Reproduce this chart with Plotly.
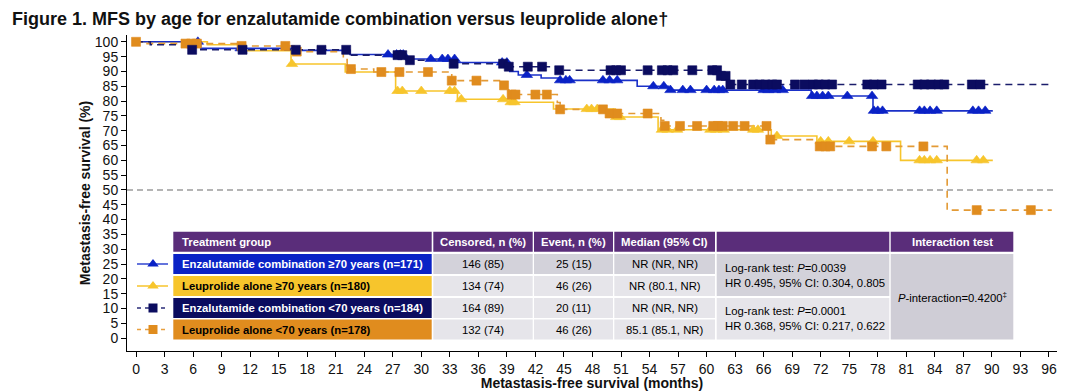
import numpy as np
import plotly.graph_objects as go

# ---------------- data ----------------
month_ticks = list(range(0, 97, 3))
surv_ticks = list(range(0, 101, 5))

# Enzalutamide combination >=70 years (event times, survival after each step)
enz70_t = [0, 6.8, 17.0, 22.5, 28.3, 33.6, 39.3, 40.2, 42.6, 44.6, 52.7, 56.0, 71.0, 77.5]
enz70_s = [100, 97.8, 97.1, 95.7, 94.2, 93.0, 90.0, 88.8, 87.8, 87.0, 85.0, 83.7, 81.7, 76.7]
enz70_last = 90.1
enz70_cens = [6.5, 11.0, 26.5, 27.4, 27.8, 28.1, 31.0, 32.2, 32.8, 33.5, 38.5, 39.0, 41.1, 44.6,
              45.2, 45.6, 49.1, 49.8, 50.6, 54.4, 55.5, 56.2, 57.5, 58.3, 60.0, 60.8, 61.3, 61.7,
              66.0, 66.5, 67.2, 68.0, 71.1, 71.6, 72.2, 72.8, 74.8, 77.4, 77.6, 78.0, 78.5, 82.4,
              82.9, 83.5, 84.2, 88.0, 88.6, 89.3]

# Leuprolide alone >=70 years
leu70_t = [0, 7.5, 11.5, 16.3, 22.0, 27.3, 33.8, 39.3, 43.9, 50.4, 54.9, 66.8, 71.6, 80.4]
leu70_s = [100, 99.0, 97.0, 92.5, 89.8, 83.4, 80.6, 79.6, 77.3, 74.6, 70.3, 68.2, 66.4, 60.0]
leu70_last = 90.1
leu70_cens = [16.4, 27.5, 28.0, 30.0, 33.0, 33.5, 34.2, 38.6, 39.4, 39.8, 47.4, 47.9, 48.5, 50.5,
              50.9, 55.3, 55.9, 56.9, 60.4, 61.0, 61.8, 64.9, 65.4, 67.4, 72.0, 72.8, 75.0, 77.5,
              82.4, 82.9, 83.5, 84.2, 88.4, 89.1]

# Enzalutamide combination <70 years
enzlt_t = [0, 1.5, 5.8, 22.2, 28.3, 33.3, 39.0, 44.4, 61.4, 62.2]
enzlt_s = [100, 99.0, 97.3, 95.5, 93.8, 92.6, 91.6, 90.4, 88.5, 85.6]
enzlt_last = 96.3
enzlt_cens = [5.9, 11.2, 16.8, 19.5, 22.1, 27.5, 28.0, 28.8, 33.4, 38.6, 39.2, 41.2, 42.7, 44.5,
              49.9, 50.5, 51.0, 53.8, 55.3, 55.9, 56.5, 58.5, 60.6, 61.1, 61.5, 62.0, 62.5, 63.7,
              64.9, 65.6, 66.2, 66.9, 67.4, 69.3, 70.3, 71.2, 71.8, 72.5, 73.2, 76.9, 77.6, 78.4,
              82.2, 82.9, 83.6, 84.4, 85.0, 87.9, 88.8]

# Leuprolide alone <70 years
leult_t = [0, 1.0, 11.0, 16.9, 21.8, 22.2, 22.6, 25.0, 33.2, 38.7, 39.2, 44.3, 44.6, 49.5, 55.2,
           55.6, 66.5, 71.8, 85.3]
leult_s = [100, 99.4, 98.6, 96.7, 94.0, 92.0, 90.8, 89.8, 86.9, 85.3, 82.2, 79.5, 77.2, 75.8, 73.5,
           71.6, 67.0, 64.7, 43.2]
leult_last = 96.3
leult_cens = [0.0, 5.2, 5.8, 6.4, 11.1, 15.7, 16.9, 22.6, 25.8, 27.7, 30.7, 33.2, 35.8, 38.7, 39.5,
              39.9, 42.0, 43.2, 44.6, 49.1, 49.8, 50.6, 53.8, 55.6, 57.2, 59.0, 60.7, 61.2, 61.7,
              62.8, 64.0, 66.3, 66.7, 71.9, 72.5, 73.0, 77.4, 78.9, 82.8, 88.4, 94.1]

# table content
group_labels = ["Enzalutamide combination ≥70 years (n=171)",
                "Leuprolide alone ≥70 years (n=180)",
                "Enzalutamide combination <70 years (n=184)",
                "Leuprolide alone <70 years (n=178)"]
censored = ["146 (85)", "134 (74)", "164 (89)", "132 (74)"]
events = ["25 (15)", "46 (26)", "20 (11)", "46 (26)"]
medians = ["NR (NR, NR)", "NR (80.1, NR)", "NR (NR, NR)", "85.1 (85.1, NR)"]
logrank = ["Log-rank test: <i>P</i>=0.0039<br>HR 0.495, 95% CI: 0.304, 0.805",
           "Log-rank test: <i>P</i>=0.0001<br>HR 0.368, 95% CI: 0.217, 0.622"]
interaction = "<i>P</i>-interaction=0.4200<sup>‡</sup>"
headers = ["Treatment group", "Censored, n (%)", "Event, n (%)", "Median (95% CI)", "", "Interaction test"]

# ---------------- style ----------------
PAGE_W, PAGE_H = 1080, 391
OFF = 8                      # default body margin of the html page
W, H = PAGE_W - OFF, PAGE_H - OFF
# plot area in page pixels
PX0, PX1, PY0, PY1 = 127, 1057, 35, 351
L, R, T, B = PX0 - OFF, PAGE_W - PX1, PY0 - OFF, PAGE_H - PY1

FONT = "Liberation Sans, Arial, sans-serif"
NARROW = "Liberation Sans Narrow, Arial Narrow, Liberation Sans, Arial, sans-serif"

BLUE = "#0a22c6"
YELLOW = "#f7c52c"
NAVY = "#0b0c5f"
ORANGE = "#e08c1e"
PURPLE = "#5a2d7a"
CELL_D = "#d3d2da"
CELL_L = "#e6e5ea"

series = [
    dict(t=leu70_t, s=leu70_s, last=leu70_last, c=leu70_cens, line=YELLOW, mk=YELLOW,
         dash="solid", sym="triangle-up"),
    dict(t=enz70_t, s=enz70_s, last=enz70_last, c=enz70_cens, line="#1a30c8", mk=BLUE,
         dash="solid", sym="triangle-up"),
    dict(t=leult_t, s=leult_s, last=leult_last, c=leult_cens, line="#e39a35", mk=ORANGE,
         dash="7px,5px", sym="square"),
    dict(t=enzlt_t, s=enzlt_s, last=enzlt_last, c=enzlt_cens, line="#1b1d6b", mk=NAVY,
         dash="7px,5px", sym="square"),
]

fig = go.Figure()

for sr in series:
    tt = np.array(sr["t"], dtype=float)
    ss = np.array(sr["s"], dtype=float)
    xs = list(tt) + [sr["last"]]
    ys = list(ss) + [ss[-1]]
    fig.add_trace(go.Scatter(x=xs, y=ys, mode="lines", line=dict(color=sr["line"], width=1.6,
                             dash=sr["dash"], shape="hv"), showlegend=False, hoverinfo="skip"))
for sr in series:
    tt = np.array(sr["t"], dtype=float)
    ss = np.array(sr["s"], dtype=float)
    cx = np.array(sr["c"], dtype=float)
    idx = np.searchsorted(tt, cx, side="right") - 1
    cy = ss[idx]
    fig.add_trace(go.Scatter(x=cx, y=cy, mode="markers",
                             marker=dict(symbol=sr["sym"], size=9 if sr["sym"] == "square" else 10,
                                         color=sr["mk"], line=dict(width=0.6, color=sr["mk"])),
                             showlegend=False, hoverinfo="skip"))

# 50% reference line
fig.add_shape(type="line", xref="paper", yref="y", x0=0, x1=1, y0=50, y1=50,
              line=dict(color="#9c9c9c", width=1.5, dash="6px,4px"), layer="below")

# ---------------- table (pixel overlay axes, page coordinates) ----------------
col_x = [(173.3, 431.7), (433.3, 532.7), (534.0, 613.0), (614.3, 715.0), (716.7, 889.3), (890.7, 1013.3)]
head_y = (231.7, 251.7)
row_y = [(254.0, 274.0), (276.0, 296.0), (298.0, 318.0), (319.5, 339.5)]
row_col = [BLUE, YELLOW, NAVY, ORANGE]
row_txt = ["white", "black", "white", "black"]
row_bg = [CELL_D, CELL_L, CELL_L, CELL_L]

def rect(x0, x1, y0, y1, color):
    fig.add_shape(type="rect", xref="x2", yref="y2", x0=x0, x1=x1, y0=y0, y1=y1,
                  fillcolor=color, line=dict(width=0), layer="above")

def text(x, y, s, size=11.3, color="black", bold=False, anchor="center"):
    fig.add_annotation(xref="x2", yref="y2", x=x, y=y, text=f"<b>{s}</b>" if bold else s,
                       showarrow=False, xanchor=anchor, yanchor="middle", align="left",
                       font=dict(family=FONT, size=size, color=color))

for (x0, x1), h in zip(col_x, headers):
    rect(x0, x1, head_y[0], head_y[1], PURPLE)
    if h:
        if h == "Treatment group":
            text(180, sum(head_y) / 2, h, color="white", bold=True, anchor="left")
        else:
            text((x0 + x1) / 2, sum(head_y) / 2, h, color="white", bold=True)

for i, (y0, y1) in enumerate(row_y):
    yc = (y0 + y1) / 2
    rect(col_x[0][0], col_x[0][1], y0, y1, row_col[i])
    text(180, yc, group_labels[i], color=row_txt[i], bold=True, anchor="left")
    for j, vals in zip([1, 2, 3], [censored, events, medians]):
        rect(col_x[j][0], col_x[j][1], y0, y1, row_bg[i])
        text((col_x[j][0] + col_x[j][1]) / 2, yc, vals[i])

for k in range(2):
    y0 = row_y[2 * k][0]
    y1 = row_y[2 * k + 1][1]
    rect(col_x[4][0], col_x[4][1], y0, y1, CELL_D if k == 0 else CELL_L)
    text(722.5, (y0 + y1) / 2, logrank[k], anchor="left")

rect(col_x[5][0], col_x[5][1], row_y[0][0], row_y[3][1], "#cfcdd6")
text((col_x[5][0] + col_x[5][1]) / 2, (row_y[0][0] + row_y[3][1]) / 2, interaction)

# legend glyphs
leg_styles = [(BLUE, "solid", "triangle-up", "#3046d0"), (YELLOW, "solid", "triangle-up", YELLOW),
              (NAVY, "4px,4px", "square", "#2a2c78"), (ORANGE, "4px,4px", "square", "#e8a040")]
for (y0, y1), (mc, dsh, sym, lc) in zip(row_y, leg_styles):
    yc = (y0 + y1) / 2
    fig.add_trace(go.Scatter(x=[137, 168], y=[yc, yc], xaxis="x2", yaxis="y2", mode="lines",
                             line=dict(color=lc, width=1.5, dash=dsh), showlegend=False,
                             hoverinfo="skip"))
    fig.add_trace(go.Scatter(x=[153], y=[yc], xaxis="x2", yaxis="y2", mode="markers",
                             marker=dict(symbol=sym, size=10 if sym == "triangle-up" else 9, color=mc),
                             showlegend=False, hoverinfo="skip"))

fig.update_layout(
    width=W, height=H,
    margin=dict(l=L, r=R, t=T, b=B, autoexpand=False),
    paper_bgcolor="white", plot_bgcolor="white",
    hovermode=False,
    title=dict(text="<b>Figure 1. MFS by age for enzalutamide combination versus leuprolide alone†</b>",
               xref="container", yref="container", x=(12 - OFF) / W, xanchor="left",
               y=1 - (19 - OFF) / H, yanchor="middle",
               font=dict(family=FONT, size=18, color="#111111")),
    xaxis=dict(range=[-0.95, 96.85], tickvals=month_ticks, ticktext=[str(v) for v in month_ticks],
               automargin=False,
               showline=True, linecolor="black", linewidth=1, ticks="outside", ticklen=5,
               tickcolor="black", showgrid=False, zeroline=False,
               tickfont=dict(family=NARROW, size=14, color="#111111"),
               title=dict(text="<b>Metastasis-free survival (months)</b>", standoff=2,
                          font=dict(family=NARROW, size=14, color="#111111"))),
    yaxis=dict(range=[-4.35, 102.3], tickvals=surv_ticks, ticktext=[str(v) for v in surv_ticks],
               automargin=False,
               showline=True, linecolor="black", linewidth=1, ticks="outside", ticklen=5,
               tickcolor="black", showgrid=False, zeroline=False,
               tickfont=dict(family=FONT, size=14, color="#111111"),
               title=dict(text="<b>Metastasis-free survival (%)</b>", standoff=0,
                          font=dict(family=FONT, size=14, color="#111111"))),
    xaxis2=dict(overlaying="x", range=[PX0, PX1], visible=False, anchor="y2", automargin=False),
    yaxis2=dict(overlaying="y", range=[PY1, PY0], visible=False, anchor="x2", automargin=False),
)

fig.write_html("out.html")
